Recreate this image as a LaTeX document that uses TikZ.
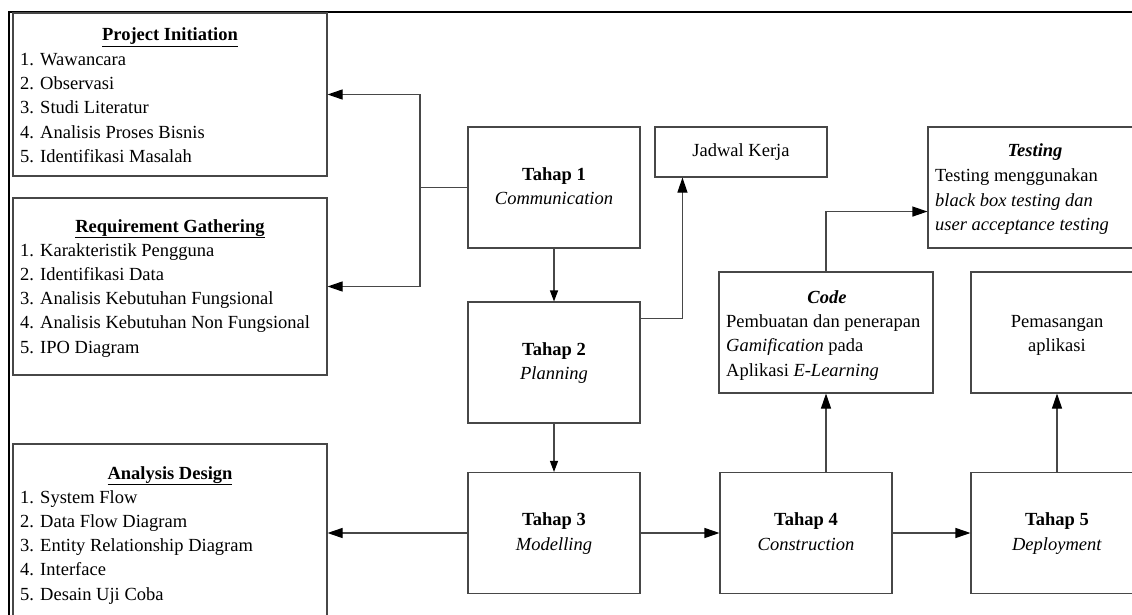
\documentclass[tikz,border=0pt]{standalone}
\usepackage{fontspec}
\setmainfont{Liberation Serif}
\usetikzlibrary{arrows.meta,calc}

\begin{document}
\begin{tikzpicture}[x=1pt,y=-1pt,
  box/.style={draw=black!72, line width=1.1pt, rectangle, inner sep=0pt},
  stage/.style={box, minimum width=172pt, minimum height=121pt, align=center,
    font=\fontsize{18.5}{24.5}\selectfont},
  txt/.style={inner sep=0pt, font=\fontsize{18.5}{24.5}\selectfont},
  ttl/.style={txt, anchor=base},
  itm/.style={txt, anchor=base west},
  conn/.style={draw=black!72, line width=1.1pt},
  arr/.style={conn, -{Triangle[length=15pt,width=10pt,color=black]}},
  sarr/.style={conn, -{Triangle[length=11pt,width=8pt,color=black]}}
]
\useasboundingbox (0,0) rectangle (1132,615);
\clip (0,0) rectangle (1132,615);

% page frame
\draw[line width=2.6pt] (9,620) -- (9,12) -- (1140,12);

% left column boxes
\node[box, minimum width=314pt, minimum height=163pt] (pi)  at (170,94.5) {};
\node[box, minimum width=314pt, minimum height=177pt] (req) at (170,286.5) {};
\node[box, minimum width=314pt, minimum height=178pt] (ad)  at (170,533) {};

\node[ttl] (piT) at (170,41) {\underline{\textbf{Project Initiation}}};
\node[itm] (pi1) at (20,65.3)  {1. Wawancara};
\node[itm] (pi2) at (20,89.6)  {2. Observasi};
\node[itm] (pi3) at (20,113.9) {3. Studi Literatur};
\node[itm] (pi4) at (20,138.2) {4. Analisis Proses Bisnis};
\node[itm] (pi5) at (20,162.5) {5. Identifikasi Masalah};

\node[ttl] (reqT) at (170,232) {\underline{\textbf{Requirement Gathering}}};
\node[itm] (req1) at (20,256)   {1. Karakteristik Pengguna};
\node[itm] (req2) at (20,280.3) {2. Identifikasi Data};
\node[itm] (req3) at (20,304.6) {3. Analisis Kebutuhan Fungsional};
\node[itm] (req4) at (20,328.9) {4. Analisis Kebutuhan Non Fungsional};
\node[itm] (req5) at (20,353.2) {5. IPO Diagram};

\node[ttl] (adT) at (170,479) {\underline{\textbf{Analysis Design}}};
\node[itm] (ad1) at (20,503)   {1. System Flow};
\node[itm] (ad2) at (20,527.3) {2. Data Flow Diagram};
\node[itm] (ad3) at (20,551.6) {3. Entity Relationship Diagram};
\node[itm] (ad4) at (20,575.9) {4. Interface};
\node[itm] (ad5) at (20,600.2) {5. Desain Uji Coba};

% stages
\node[stage] (t1) at (554,187.5) {\strut\textbf{Tahap 1}\\\strut\textit{Communication}};
\node[stage] (t2) at (554,362.5) {\strut\textbf{Tahap 2}\\\strut\textit{Planning}};
\node[stage] (t3) at (554,533)   {\strut\textbf{Tahap 3}\\\strut\textit{Modelling}};
\node[stage] (t4) at (806,533)   {\strut\textbf{Tahap 4}\\\strut\textit{Construction}};
\node[stage] (t5) at (1057,533)  {\strut\textbf{Tahap 5}\\\strut\textit{Deployment}};

% outputs
\node[box, minimum width=172pt, minimum height=50pt, font=\fontsize{18.5}{24.5}\selectfont]
  (jadwal) at (741,152) {\strut Jadwal Kerja};
\node[box, minimum width=214pt, minimum height=121pt] (test) at (1035,187.5) {};
\node[box, minimum width=214pt, minimum height=121pt] (code) at (826,332.5) {};
\node[box, minimum width=172pt, minimum height=121pt] (pem) at (1057,332.5) {};

\node[ttl] (pem1) at (1057,327.3) {Pemasangan};
\node[ttl] (pem2) at (1057,351.8) {aplikasi};

\node[ttl] (testT) at (1035,157) {\textbf{\textit{Testing}}};
\node[itm] (test1) at (935,181.7) {Testing menggunakan};
\node[itm] (test2) at (935,206.2) {\textit{black box testing dan}};
\node[itm] (test3) at (935,230.7) {\textit{user acceptance testing}};

\node[ttl] (codeT) at (827,303.3) {\textbf{\textit{Code}}};
\node[itm] (code1) at (726,327.5) {Pembuatan dan penerapan};
\node[itm] (code2) at (726,351.8) {\textit{Gamification} pada};
\node[itm] (code3) at (726,376.1) {Aplikasi \textit{E-Learning}};

% connectors
\coordinate (split) at (420,187.5);
\draw[conn] (t1.west) -- (split);
\draw[arr] (split) |- (pi.east);
\draw[arr] (split) |- (req.east);
\draw[arr] (t3.west) -- (ad.east);
\draw[sarr] (t1.south) -- (t2.north);
\draw[sarr] (t2.south) -- (t3.north);
\draw[arr] ([yshift=-17pt]t2.north east) -| ([xshift=28pt]jadwal.south west);
\draw[arr] (t3.east) -- (t4.west);
\draw[arr] (t4.east) -- (t5.west);
\draw[arr] (code.south |- t4.north) -- (code.south);
\draw[arr] (t5.north) -- (pem.south);
\draw[arr] (code.north) |- ([yshift=37pt]test.south west);
\end{tikzpicture}
\end{document}
